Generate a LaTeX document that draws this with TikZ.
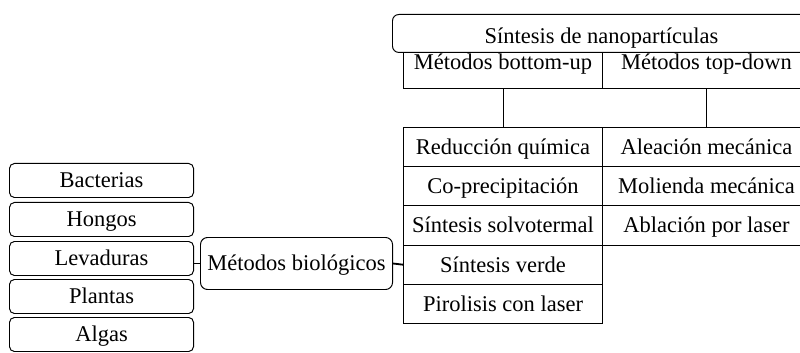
\documentclass[tikz,border=0pt]{standalone}
\usepackage{fontspec}
\setmainfont{Liberation Serif}
\tikzset{
  biobox/.style={
    draw,
    rounded corners=3.5pt,
    anchor=north west,
    inner sep=0pt,
    minimum width=4.6cm,
    minimum height=0.85cm,
    text height=10.6pt,
    text depth=0pt},
  cell/.style={
    draw,
    anchor=north west,
    inner sep=0pt,
    minimum height=0.98cm,
    text height=10.6pt,
    text depth=0pt},
  header/.style={
    draw,
    anchor=north west,
    inner sep=0pt,
    text height=12.1pt,
    text depth=13.5pt},
  link/.style={line width=1.3pt}
}

\begin{document}
\begin{tikzpicture}[x=0.025cm, y=-0.025cm, line width=0.7pt, font=\fontsize{16}{19}\selectfont]
  \clip (0,0) rectangle (800,353);

  % Top
  \node (sintesis) [draw, rounded corners=4.5pt, anchor=north west, inner sep=0pt, minimum width=10.45cm, text height=20.3pt, text depth=6.7pt] at (392,14) {S\'intesis de nanopart\'iculas};
  \node (bottomup) [header, minimum width=4.975cm] at (403,52) {M\'etodos bottom-up};
  \node (topdown) [header, minimum width=5.2cm] at (602,52) {M\'etodos top-down};

  % Bottom-up column
  \node (reduccion) [cell, minimum width=4.975cm] at (403,127) {Reducci\'on qu\'imica};
  \node (coprec) [cell, minimum width=4.975cm] at (403,166.2) {Co-precipitaci\'on};
  \node (solvo) [cell, minimum width=4.975cm] at (403,205.4) {S\'intesis solvotermal};
  \node (verde) [cell, minimum width=4.975cm] at (403,244.6) {S\'intesis verde};
  \node (pirolisis) [cell, minimum width=4.975cm] at (403,283.8) {Pirolisis con laser};

  % Top-down column
  \node (aleacion) [cell, minimum width=5.2cm] at (602,127) {Aleaci\'on mec\'anica};
  \node (molienda) [cell, minimum width=5.2cm] at (602,166.2) {Molienda mec\'anica};
  \node (ablacion) [cell, minimum width=5.2cm] at (602,205.4) {Ablaci\'on por laser};

  \draw (bottomup.south) -- (reduccion.north);
  \draw (topdown.south) -- (aleacion.north);

  % Biological methods
  \node (metbio) [draw, rounded corners=5pt, anchor=north west, inner sep=0pt, minimum width=4.8cm, minimum height=1.3cm, text height=10.6pt, text depth=0pt] at (200,237) {M\'etodos biol\'ogicos};
  \node (bacterias) [biobox] at (9,163) {Bacterias};
  \node (hongos) [biobox] at (9,202) {Hongos};
  \node (levaduras) [biobox] at (9,241) {Levaduras};
  \node (plantas) [biobox] at (9,279) {Plantas};
  \node (algas) [biobox] at (9,317) {Algas};

  \draw[link] (metbio.west) -- (metbio.west -| levaduras.east);
  \draw[link] (metbio.east) -- (verde.west);
\end{tikzpicture}
\end{document}
